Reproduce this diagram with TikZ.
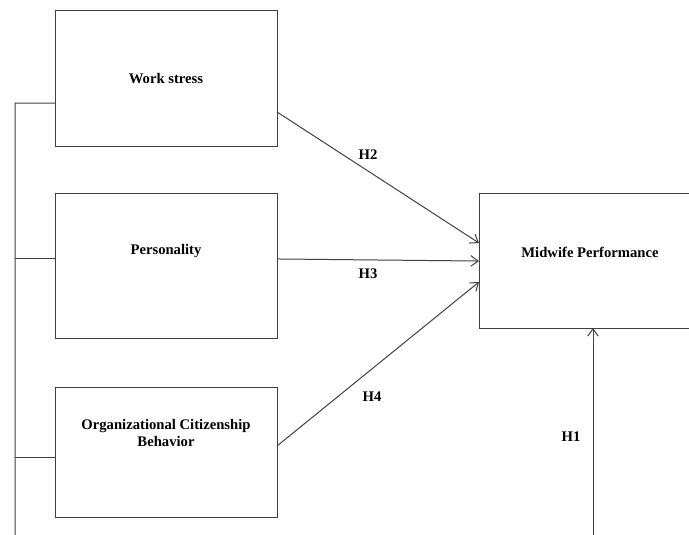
\documentclass[tikz,border=0pt]{standalone}
\usepackage{fontspec}
\setmainfont{Liberation Serif}
\usetikzlibrary{arrows.meta}
\begin{document}
\begin{tikzpicture}[x=0.75pt,y=-0.75pt,
  box/.style={draw=black!75,line width=0.75pt,minimum width=222*0.75pt,inner sep=0pt,outer sep=0pt},
  lbl/.style={font=\bfseries\fontsize{11}{12.5}\selectfont,align=center,inner sep=0pt},
  conn/.style={draw=black!75,line width=0.75pt},
  arr/.style={conn,-{Straight Barb[length=5.5pt,width=8pt]}}]
\useasboundingbox (0,0) rectangle (689,535);
\clip (0,0) rectangle (689,535);
\node[box,minimum height=135*0.75pt] (b1) at (166,78.5) {};
\node[box,minimum height=145*0.75pt] (b2) at (166,265.5) {};
\node[box,minimum height=130*0.75pt] (b3) at (166,452) {};
\node[box,minimum width=228*0.75pt,minimum height=135*0.75pt] (mp) at (593,260.5) {};
\node[lbl] (t1) at (166,79) {Work stress};
\node[lbl] (t2) at (166,251) {Personality};
\node[lbl] (t3) at (166,433) {Organizational Citizenship\\Behavior};
\node[lbl] (t4) at (590,252) {Midwife Performance};
\coordinate (lt) at (15,103);
\coordinate (lb) at (15,545);
\coordinate (h1s) at (593,545);
\coordinate (w1) at ([yshift=-18.4pt]b1.west);
\coordinate (w2) at ([yshift=4.9pt]b2.west);
\coordinate (w3) at ([yshift=-3.75pt]b3.west);
\coordinate (e1) at ([yshift=-25.1pt]b1.east);
\coordinate (e2) at ([yshift=4.9pt]b2.east);
\coordinate (e3) at ([yshift=4.5pt]b3.east);
\coordinate (m1) at ([yshift=13.1pt]mp.west);
\coordinate (m2) at ([yshift=-0.4pt]mp.west);
\coordinate (m3) at ([yshift=-16.1pt]mp.west);
\draw[conn] (lb) -- (lt) -- (w1);
\draw[conn] (w2) -- (lt |- w2);
\draw[conn] (w3) -- (lt |- w3);
\draw[arr] (e1) -- (m1);
\draw[arr] (e2) -- (m2);
\draw[arr] (e3) -- (m3);
\draw[arr] (h1s) -- (mp.south);
\node[lbl] (h2) at (368,155) {H2};
\node[lbl] (h3) at (368,274) {H3};
\node[lbl] (h4) at (372,397) {H4};
\node[lbl] (h1) at (571,437) {H1};
\end{tikzpicture}
\end{document}
